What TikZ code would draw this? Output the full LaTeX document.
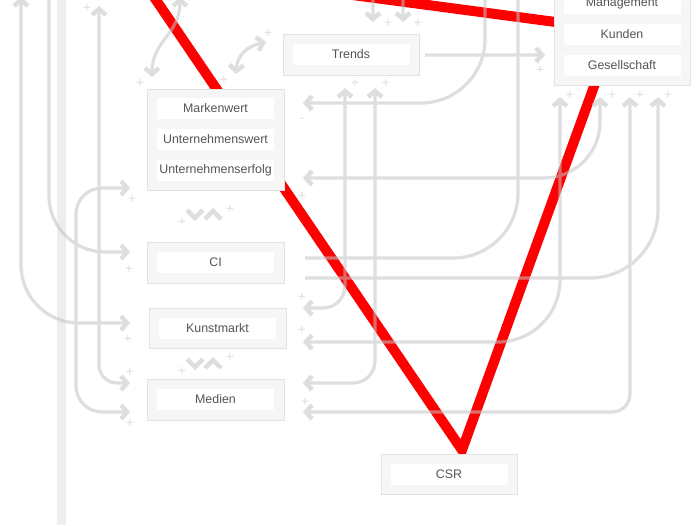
\documentclass[tikz,border=0pt]{standalone}
\usepackage{fontspec}
\setmainfont{Liberation Sans}
\usetikzlibrary{arrows.meta}
\definecolor{boxfill}{HTML}{F6F6F6}
\definecolor{boxline}{HTML}{E2E2E2}
\definecolor{txt}{HTML}{555555}
\definecolor{gl}{HTML}{C4C4C4}
\definecolor{barcol}{HTML}{EEEEEE}
\tikzset{
  chev/.tip={Straight Barb[length=6pt,width=14pt,line width=4.5pt]},
  box/.style={draw=boxline, fill=boxfill, line width=1pt, inner sep=0pt, rectangle},
  lbl/.style={fill=white, minimum width=117pt, minimum height=21pt, inner sep=0pt, text=txt, font=\fontsize{12.4}{14}\selectfont},
  gline/.style={draw=gl, line width=3.2pt},
  plus/.style={text=gl, font=\fontsize{14}{14}\selectfont, inner sep=0pt},
  redl/.style={draw=red, line width=10pt},
  chevonly/.style={draw=gl, line width=4.5pt}
}
\begin{document}
\begin{tikzpicture}[x=1pt,y=-1pt]
\useasboundingbox (0,0) rectangle (700,525);
\fill[white] (0,0) rectangle (700,525);
% thick vertical bar
\draw[barcol, line width=9pt] (61,0) -- (61,525);
% red lines
\draw[redl] (149.2,-10) -- (462,450) -- (632.6,-20);
\draw[redl] (300,-12) -- (620,30.6);
% boxes
\node[box, minimum width=136pt, minimum height=101pt] (tr) at (622,34.5) {};
\node[lbl] (tr1) at (622,3.5) {Management};
\node[lbl] (tr2) at (622,34.5) {Kunden};
\node[lbl] (tr3) at (622,65.5) {Gesellschaft};
\node[box, minimum width=136pt, minimum height=41pt] (trends) at (351,54.5) {};
\node[lbl] (trendst) at (351,54.5) {Trends};
\node[box, minimum width=137pt, minimum height=101pt] (mw) at (215.5,139.5) {};
\node[lbl] (mw1) at (215.5,108.5) {Markenwert};
\node[lbl] (mw2) at (215.5,139.5) {Unternehmenswert};
\node[lbl] (mw3) at (215.5,170.5) {Unternehmenserfolg};
\node[box, minimum width=137pt, minimum height=41pt] (ci) at (215.5,262.5) {};
\node[lbl] (cit) at (215.5,262.5) {CI};
\node[box, minimum width=137pt, minimum height=40pt] (km) at (217.5,328) {};
\node[lbl] (kmt) at (217.5,328) {Kunstmarkt};
\node[box, minimum width=137pt, minimum height=41pt] (me) at (215.5,399.5) {};
\node[lbl] (met) at (215.5,399.5) {Medien};
\node[box, minimum width=136pt, minimum height=40pt] (csr) at (449,474) {};
\node[lbl] (csrt) at (449,474) {CSR};
% grey connectors
\begin{scope}[transparency group, opacity=0.55]
\draw[gline, chev-chev, rounded corners=58pt] (21,-3) -- (21,323) -- (130,323);
\draw[gline, -chev, rounded corners=56pt] (49,-5) -- (49,252) -- (130,252);
\draw[gline, chev-chev, rounded corners=18pt] (99,6) -- (99,383) -- (130,383);
\draw[gline, chev-chev, rounded corners=26pt] (130,188) -- (76,188) -- (76,412) -- (130,412);
\draw[gline, -chev, rounded corners=64pt] (485,-5) -- (485,103) -- (303,103);
\draw[gline, chev-chev, rounded corners=56pt] (600,97) -- (600,178) -- (303,178);
\draw[gline, rounded corners=65pt] (305,258) -- (518,258) -- (518,-5);
\draw[gline, -chev, rounded corners=68pt] (305,278) -- (658,278) -- (658,97);
\draw[gline, chev-chev, rounded corners=62pt] (560,97) -- (560,342) -- (303,342);
\draw[gline, chev-chev, rounded corners=18pt] (630,97) -- (630,412) -- (303,412);
\draw[gline, chev-chev, rounded corners=22pt] (345,88) -- (345,308) -- (303,308);
\draw[gline, chev-chev, rounded corners=22pt] (375,88) -- (375,383) -- (303,383);
\draw[gline, -chev] (425,55) -- (545,55);
\draw[gline, -chev] (373,-5) -- (373,22);
\draw[gline, -chev] (403,-5) -- (403,22);
\draw[gline, chev-chev] (180,-3) .. controls (180,35) and (152,40) .. (152,77);
\draw[gline, chev-chev] (236,74) .. controls (237,55) and (248,46) .. (266,42);
\draw[chevonly] (187,210) -- (195,218) -- (203,210);
\draw[chevonly] (205,219) -- (213,211) -- (221,219);
\draw[chevonly] (187,359) -- (195,367) -- (203,359);
\draw[chevonly] (205,368) -- (213,360) -- (221,368);
\foreach \x/\y [count=\i] in {132/199,129/269,128/339,130/372,130/423,87/8,140/83,224/80,268/33,182/222,230/209,182/371,230/357,302/196,302/297,302/330,305/402,355/83,386/83,388/23,418/23,540/70,570/95,612/95,640/95,668/95}
  \node[plus] (pl\i) at (\x,\y) {+};
\node[plus] (minus) at (302,120) {-};
\end{scope}
\end{tikzpicture}
\end{document}
